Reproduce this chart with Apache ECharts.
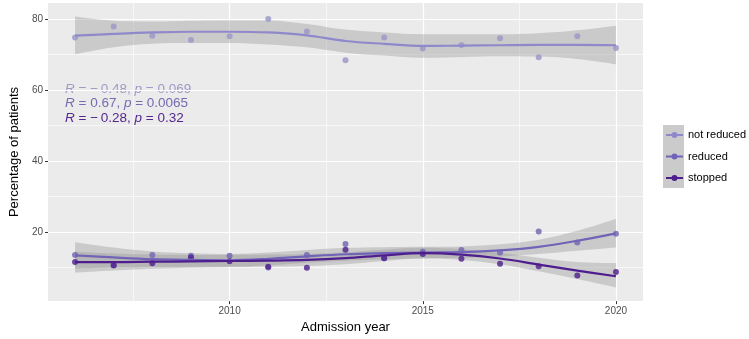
<!DOCTYPE html>
<html>
<head>
<meta charset="utf-8">
<script src="https://cdn.jsdelivr.net/npm/echarts@6/dist/echarts.min.js"></script>
<style>
  html, body { margin: 0; padding: 0; background: #fff; }
  #chart { width: 749px; height: 339px; }
</style>
</head>
<body>
<div id="chart"></div>
<script>
// admission years
const YEARS = [2006, 2007, 2008, 2009, 2010, 2011, 2012, 2013, 2014, 2015, 2016, 2017, 2018, 2019, 2020];

// observed percentages
const NOT_REDUCED = [74.8, 77.9, 75.3, 74.1, 75.1, 80.0, 76.5, 68.4, 74.8, 71.7, 72.7, 74.6, 69.2, 75.1, 71.8];
const REDUCED     = [13.5, 10.5, 13.5, 13.3, 13.3, 10.0, 13.5, 16.6, 12.6, 14.4, 14.9, 14.2, 20.1, 17.0, 19.5];
const STOPPED     = [11.5, 10.6, 11.2, 12.8, 11.7, 10.2,  9.9, 15.0, 12.6, 13.8, 12.4, 11.0, 10.3,  7.7,  8.7];

const NR_FIT   = [75.3, 75.8, 76.2, 76.4, 76.4, 76.2, 75.4, 73.8, 73.0, 72.4, 72.5, 72.6, 72.7, 72.7, 72.6];
const NR_LOW   = [70.0, 72.0, 73.0, 73.2, 73.2, 72.8, 72.0, 70.5, 69.7, 69.1, 69.3, 69.5, 69.4, 68.7, 67.2];
const NR_HIGH  = [80.7, 79.5, 79.3, 79.5, 79.6, 79.6, 78.6, 77.0, 76.2, 75.7, 75.7, 75.7, 76.0, 76.8, 78.1];

const RE_FIT   = [13.4, 12.8, 12.3, 12.1, 12.0, 12.4, 13.1, 13.7, 14.0, 14.2, 14.3, 14.8, 15.8, 17.5, 19.6];
const RE_LOW   = [ 9.7, 10.0, 10.1, 10.2, 10.2, 10.6, 11.3, 11.9, 12.3, 12.6, 12.7, 13.1, 13.8, 14.7, 15.6];
const RE_HIGH  = [17.1, 15.6, 14.5, 14.0, 13.8, 14.2, 14.9, 15.5, 15.7, 15.8, 15.9, 16.5, 17.8, 20.3, 23.6];

const ST_FIT   = [11.5, 11.5, 11.6, 11.7, 11.8, 11.9, 12.1, 12.6, 13.4, 14.0, 13.6, 12.5, 10.8,  9.1,  7.5];
const ST_LOW   = [ 8.5,  9.1,  9.6,  9.9, 10.1, 10.2, 10.4, 10.9, 11.8, 12.5, 12.1, 10.9,  8.9,  6.7,  4.3];
const ST_HIGH  = [14.5, 13.9, 13.6, 13.5, 13.5, 13.6, 13.8, 14.3, 15.0, 15.5, 15.1, 14.1, 12.7, 11.5, 11.2];

const X_TICKS = [2010, 2015, 2020];
const X_MINOR = [2007.5, 2012.5, 2017.5];
const Y_TICKS = [20, 40, 60, 80];
const Y_MINOR = [10, 30, 50, 70];

const NAMES  = ['not reduced', 'reduced', 'stopped'];
const COLORS = ['#9E9AC8', '#756BB1', '#54278F'];
const LINE_COLORS = ['#8F89CC', '#7163B8', '#4E1E8E'];
const STATS = ['{i|R} = \u2212\u20090.48, {i|p} = 0.069', '{i|R} = 0.67, {i|p} = 0.0065', '{i|R} = \u2212\u20090.28, {i|p} = 0.32'];

const FONT = '"Liberation Sans", Arial, sans-serif';
const RIBBON = 'rgba(153,153,153,0.4)';

const pairs = arr => YEARS.map((y, i) => [y, arr[i]]);
// value first, year second: keeps the stack on the y dimension
const flipped = arr => YEARS.map((y, i) => [arr[i], y]);
const diff = (hi, lo) => YEARS.map((y, i) => [+(hi[i] - lo[i]).toFixed(2), y]);

function ribbon(key, lo, hi) {
  return [
    { name: key + '-lo', type: 'line', stack: key, data: flipped(lo), encode: { x: 1, y: 0 }, smooth: 0.35,
      symbol: 'none', lineStyle: { opacity: 0 }, silent: true, z: 2 },
    { name: key + '-band', type: 'line', stack: key, data: diff(hi, lo), encode: { x: 1, y: 0 }, smooth: 0.35,
      symbol: 'none', lineStyle: { opacity: 0 }, areaStyle: { color: RIBBON, opacity: 1 }, silent: true, z: 2 },
  ];
}

const fits = [NR_FIT, RE_FIT, ST_FIT];
const points = [NOT_REDUCED, REDUCED, STOPPED];

const chart = echarts.init(document.getElementById('chart'), null, { renderer: 'canvas' });

const series = [
  // panel grid lines
  {
    name: 'grid', type: 'line', data: [], silent: true, z: 1,
    markLine: {
      silent: true, symbol: 'none', label: { show: false }, animation: false, z: 1,
      data: [
        ...X_MINOR.map(v => ({ xAxis: v, lineStyle: { color: '#fff', width: 0.6, type: 'solid' } })),
        ...Y_MINOR.map(v => ({ yAxis: v, lineStyle: { color: '#fff', width: 0.6, type: 'solid' } })),
        ...X_TICKS.map(v => ({ xAxis: v, lineStyle: { color: '#fff', width: 1.2, type: 'solid' } })),
        ...Y_TICKS.map(v => ({ yAxis: v, lineStyle: { color: '#fff', width: 1.2, type: 'solid' } })),
      ],
    },
  },
  ...ribbon('nr', NR_LOW, NR_HIGH),
  ...ribbon('re', RE_LOW, RE_HIGH),
  ...ribbon('st', ST_LOW, ST_HIGH),
];

NAMES.forEach((n, i) => {
  series.push({
    name: n + ' pts', type: 'scatter', data: pairs(points[i]), symbolSize: 6,
    itemStyle: { color: COLORS[i], opacity: 0.85 }, z: 3,
  });
});
NAMES.forEach((n, i) => {
  series.push({
    name: n, type: 'line', data: pairs(fits[i]), smooth: 0.35, showSymbol: false, symbol: 'none',
    color: LINE_COLORS[i], lineStyle: { color: LINE_COLORS[i], width: 2.2 }, z: 4,
  });
});

const KEY_ICON = 'path://M0,2 L17,2 L17,4 L0,4 Z M11.5,3 A3,3,0,1,1,5.5,3 A3,3,0,1,1,11.5,3 Z';

chart.setOption({
  animation: false,
  backgroundColor: '#fff',
  textStyle: { fontFamily: FONT },
  grid: { left: 38, right: 106, top: 3, bottom: 35, show: true, backgroundColor: '#EBEBEB', borderWidth: 0 },
  xAxis: {
    type: 'value', min: 2005.3, max: 2020.7,
    name: 'Admission year', nameLocation: 'middle', nameGap: 19,
    nameTextStyle: { color: '#000', fontSize: 13, fontFamily: FONT },
    axisLine: { show: false },
    axisTick: { show: true, length: 3, customValues: X_TICKS, lineStyle: { color: '#333', width: 1 } },
    axisLabel: { customValues: X_TICKS, formatter: v => String(Math.round(v)), color: '#4D4D4D', fontSize: 10, margin: 5, fontFamily: FONT },
    splitLine: { show: false },
  },
  yAxis: {
    type: 'value', min: 0.5, max: 84.5,
    name: 'Percentage of patients', nameLocation: 'middle', nameGap: 22,
    nameTextStyle: { color: '#000', fontSize: 13, fontFamily: FONT },
    axisLine: { show: false },
    axisTick: { show: true, length: 3, customValues: Y_TICKS, lineStyle: { color: '#333', width: 1 } },
    axisLabel: { customValues: Y_TICKS, formatter: v => String(Math.round(v)), color: '#4D4D4D', fontSize: 10, margin: 5, fontFamily: FONT },
    splitLine: { show: false },
  },
  legend: {
    orient: 'vertical', left: 666, top: 124.5, padding: 0, itemGap: 0.5,
    itemWidth: 17, itemHeight: 6, selectedMode: false,
    textStyle: { color: '#000', fontSize: 11, lineHeight: 21, fontFamily: FONT },
    data: NAMES.map((n, i) => ({ name: n, icon: KEY_ICON, itemStyle: { color: LINE_COLORS[i] } })),
  },
  graphic: [
    { type: 'rect', left: 663, top: 125, shape: { width: 21, height: 63 }, style: { fill: '#CBCBCB' }, z: -1, silent: true },
    ...STATS.map((t, i) => ({
      type: 'text', left: 65, top: 82 + i * 14.5, silent: true,
      style: {
        text: t, fill: COLORS[i], font: '13.5px ' + FONT,
        rich: { i: { fontStyle: 'italic', fill: COLORS[i], fontSize: 13.5, fontFamily: FONT } },
      },
    })),
  ],
  series,
});
</script>
</body>
</html>
